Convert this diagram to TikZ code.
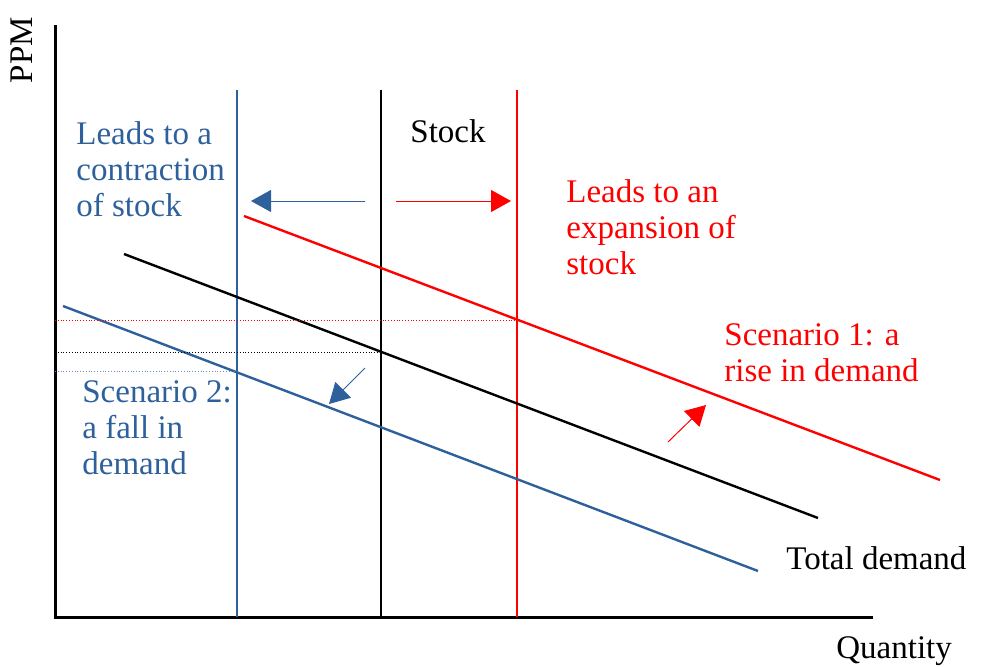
\documentclass[tikz,border=0pt]{standalone}
\usepackage{fontspec}
\setmainfont{Liberation Serif}
\usepackage{xcolor}
\usetikzlibrary{arrows.meta}

\definecolor{scenblue}{RGB}{46,96,156}
\definecolor{scenred}{RGB}{255,0,0}

\tikzset{
  axisline/.style={line width=1.5pt},
  demandline/.style={line width=1.2pt},
  guideline/.style={line width=0.4pt, densely dotted},
  shiftarrow/.style={line width=0.5pt, -{Triangle[length=10pt,width=11pt]}},
  label/.style={inner sep=0pt, anchor=north west, align=left, font=\fontsize{16.5}{18}\selectfont}
}

\begin{document}
\begin{tikzpicture}[x=0.5pt, y=-0.5pt]
	\useasboundingbox (0,0) rectangle (986,666);
	
	% Axes
	\draw[axisline] (55,25) -- (55,617) -- (873,617);
	\node[label, anchor=center, rotate=90] (ppm) at (22,50) {PPM};
	\node[label] (qty) at (836,636) {Quantity};
	
	% Stock lines
	\draw[line width=1.1pt, scenblue] (237,90) -- (237,617);
	\draw[line width=1.1pt] (381,90) -- (381,617);
	\draw[line width=1.1pt, scenred] (517,90) -- (517,617);
	\node[label] (stock) at (410,119) {Stock};
	
	% Demand lines
	\draw[demandline, scenred] (244,216) -- (940,480);
	\draw[demandline] (124,254) -- (818,518);
	\draw[demandline, scenblue] (63,306) -- (758,571);
	\node[label] (total) at (786,546) {Total demand};
	
	% Prices
	\draw[guideline, scenred] (55,320) -- (517,320);
	\draw[guideline] (55,352) -- (381,352);
	\draw[guideline, scenblue!70] (55,371) -- (237,371);
	
	% Scenario 1: a rise in demand
	\draw[shiftarrow, scenred] (396,201) -- (511,201);
	\draw[shiftarrow, scenred] (668,442) -- (706,405);
	\node[label, text=scenred] (exp) at (566,179) {Leads to an\\expansion of\\stock};
	\node[label, text=scenred] (rise) at (724,323) {Scenario 1: a\\rise in demand};
	
	% Scenario 2: a fall in demand
	\draw[shiftarrow, scenblue] (365,201) -- (251,201);
	\draw[shiftarrow, scenblue] (365,368) -- (329,404);
	\node[label, text=scenblue] (con) at (76,121) {Leads to a\\contraction\\of stock};
	\node[label, text=scenblue] (fall) at (82,380) {Scenario 2:\\a fall in\\demand};
\end{tikzpicture}
\end{document}
